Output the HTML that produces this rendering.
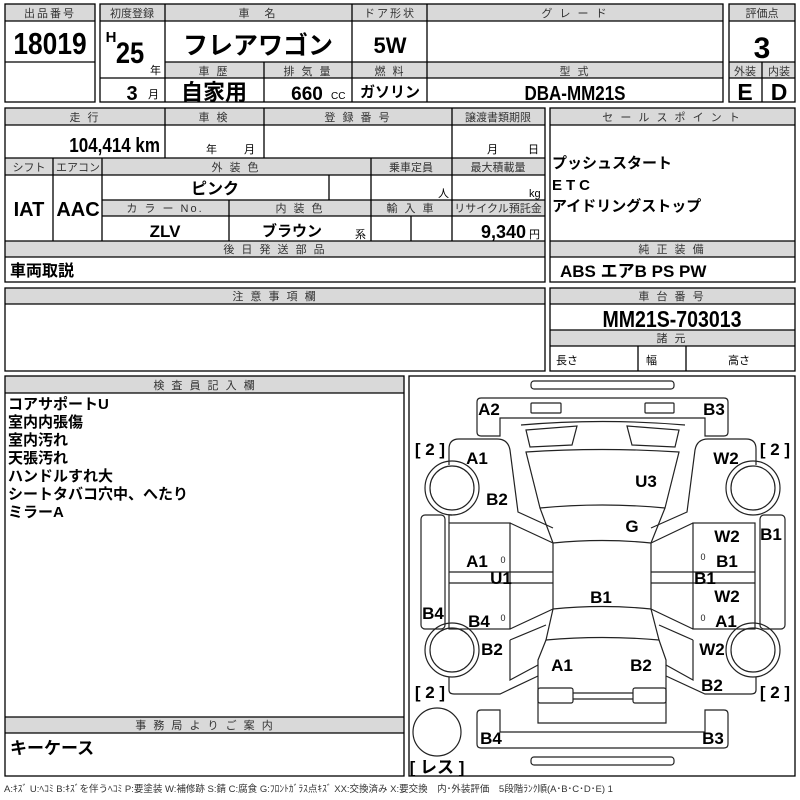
<!DOCTYPE html>
<html><head><meta charset="utf-8"><style>
html,body{margin:0;padding:0;background:#fff;}
svg{display:block;font-family:"Liberation Sans","Noto Sans CJK JP",sans-serif;}
.h{font-size:11px;fill:#333;text-anchor:middle;letter-spacing:2px}
.v{font-weight:bold;fill:#000;text-anchor:middle}
.d{font-weight:bold;font-size:17px;fill:#000;text-anchor:middle}
</style></head><body>
<svg width="800" height="800" viewBox="0 0 800 800" xmlns="http://www.w3.org/2000/svg">
<g fill="#d9d9d9" stroke="none">
<rect x="5" y="4" width="90" height="17"/>
<rect x="100" y="4" width="623" height="17"/>
<rect x="165" y="62" width="558" height="16"/>
<rect x="729" y="4" width="66" height="17"/>
<rect x="729" y="62" width="66" height="16"/>
<rect x="5" y="108" width="540" height="17"/>
<rect x="5" y="158" width="540" height="17"/>
<rect x="102" y="200" width="443" height="16"/>
<rect x="5" y="241" width="540" height="16"/>
<rect x="550" y="108" width="245" height="17"/>
<rect x="550" y="241" width="245" height="16"/>
<rect x="5" y="288" width="540" height="16"/>
<rect x="550" y="288" width="245" height="16"/>
<rect x="550" y="330" width="245" height="16"/>
<rect x="5" y="376" width="399" height="17"/>
<rect x="5" y="717" width="399" height="16"/>
</g>
<g fill="none" stroke="#000" stroke-width="1.3">
<rect x="5" y="4" width="90" height="98"/>
<line x1="5" y1="21" x2="95" y2="21"/><line x1="5" y1="62" x2="95" y2="62"/>
<rect x="100" y="4" width="623" height="98"/>
<line x1="100" y1="21" x2="723" y2="21"/>
<line x1="165" y1="62" x2="723" y2="62"/>
<line x1="100" y1="78" x2="723" y2="78"/>
<line x1="165" y1="4" x2="165" y2="102"/><line x1="352" y1="4" x2="352" y2="102"/>
<line x1="427" y1="4" x2="427" y2="102"/><line x1="264" y1="62" x2="264" y2="102"/>
<rect x="729" y="4" width="66" height="98"/>
<line x1="729" y1="21" x2="795" y2="21"/><line x1="729" y1="62" x2="795" y2="62"/><line x1="729" y1="78" x2="795" y2="78"/>
<line x1="762" y1="62" x2="762" y2="102"/>

<rect x="5" y="108" width="540" height="174"/>
<line x1="5" y1="125" x2="545" y2="125"/>
<line x1="5" y1="158" x2="545" y2="158"/>
<line x1="5" y1="175" x2="545" y2="175"/>
<line x1="102" y1="200" x2="545" y2="200"/>
<line x1="102" y1="216" x2="545" y2="216"/>
<line x1="5" y1="241" x2="545" y2="241"/>
<line x1="5" y1="257" x2="545" y2="257"/>
<line x1="165" y1="108" x2="165" y2="158"/><line x1="264" y1="108" x2="264" y2="158"/>
<line x1="452" y1="108" x2="452" y2="241"/>
<line x1="53" y1="158" x2="53" y2="241"/><line x1="102" y1="158" x2="102" y2="241"/>
<line x1="371" y1="158" x2="371" y2="241"/>
<line x1="329" y1="175" x2="329" y2="200"/>
<line x1="229" y1="200" x2="229" y2="241"/>
<line x1="411" y1="216" x2="411" y2="241"/>
<rect x="550" y="108" width="245" height="174"/>
<line x1="550" y1="125" x2="795" y2="125"/>
<line x1="550" y1="241" x2="795" y2="241"/><line x1="550" y1="257" x2="795" y2="257"/>

<rect x="5" y="288" width="540" height="83"/><line x1="5" y1="304" x2="545" y2="304"/>
<rect x="550" y="288" width="245" height="83"/>
<line x1="550" y1="304" x2="795" y2="304"/><line x1="550" y1="330" x2="795" y2="330"/><line x1="550" y1="346" x2="795" y2="346"/>
<line x1="638" y1="346" x2="638" y2="371"/><line x1="686" y1="346" x2="686" y2="371"/>

<rect x="5" y="376" width="399" height="400"/>
<line x1="5" y1="393" x2="404" y2="393"/>
<line x1="5" y1="717" x2="404" y2="717"/><line x1="5" y1="733" x2="404" y2="733"/>
<rect x="409" y="376" width="386" height="400"/>
</g>

<text class="h" x="50" y="17">出品番号</text>
<text class="h" x="132" y="17" style="letter-spacing:0">初度登録</text>
<text class="h" x="258" y="17">車　名</text>
<text class="h" x="390" y="17">ドア形状</text>
<text class="h" x="575" y="17">グ レ ー ド</text>
<text class="h" x="762" y="17" style="letter-spacing:0">評価点</text>
<text class="h" x="214" y="75">車 歴</text>
<text class="h" x="308" y="75">排 気 量</text>
<text class="h" x="390" y="75">燃 料</text>
<text class="h" x="575" y="75">型 式</text>
<text class="h" x="745" y="75" style="letter-spacing:0">外装</text>
<text class="h" x="779" y="75" style="letter-spacing:0">内装</text>

<text class="v" x="50" y="54" font-size="31" transform="translate(50 0) scale(0.85 1) translate(-50 0)">18019</text>
<text class="v" x="111" y="42" font-size="15">H</text>
<text class="v" x="130" y="63" font-size="30" transform="translate(130 0) scale(0.85 1) translate(-130 0)">25</text>
<text x="150" y="74" font-size="11">年</text>
<text class="v" x="132" y="100" font-size="20">3</text><text x="148" y="98" font-size="11">月</text>
<text class="v" x="258" y="54" font-size="25">フレアワゴン</text>
<text class="v" x="390" y="53" font-size="22">5W</text>
<text class="v" x="214" y="100" font-size="22">自家用</text>
<text class="v" x="307" y="100" font-size="19">660</text><text x="331" y="99" font-size="10">CC</text>
<text class="v" x="390" y="97" font-size="15">ガソリン</text>
<text class="v" x="575" y="100" font-size="20" transform="translate(575 0) scale(0.85 1) translate(-575 0)">DBA-MM21S</text>
<text class="v" x="762" y="58" font-size="30">3</text>
<text class="v" x="745" y="100" font-size="23">E</text>
<text class="v" x="779" y="100" font-size="23">D</text>

<text class="h" x="85" y="121">走 行</text>
<text class="h" x="214" y="121">車 検</text>
<text class="h" x="358" y="121">登 録 番 号</text>
<text class="h" x="498" y="121" style="letter-spacing:0">譲渡書類期限</text>
<text class="v" x="160" y="152" font-size="20" text-anchor="end" style="text-anchor:end" transform="translate(160 0) scale(0.85 1) translate(-160 0)">104,414 km</text>
<text x="206" y="153" font-size="11">年</text><text x="244" y="153" font-size="11">月</text>
<text x="487" y="153" font-size="11">月</text><text x="528" y="153" font-size="11">日</text>
<text class="h" x="29" y="171" style="letter-spacing:0">シフト</text>
<text class="h" x="78" y="171" style="letter-spacing:0">エアコン</text>
<text class="h" x="236" y="171">外 装 色</text>
<text class="h" x="411" y="171" style="letter-spacing:0">乗車定員</text>
<text class="h" x="498" y="171" style="letter-spacing:0">最大積載量</text>
<text class="v" x="215" y="194" font-size="16">ピンク</text>
<text x="438" y="197" font-size="11">人</text><text x="529" y="197" font-size="11">kg</text>
<text class="v" x="29" y="216" font-size="20">IAT</text>
<text class="v" x="78" y="216" font-size="20">AAC</text>
<text class="h" x="165" y="212">カ ラ ー No.</text>
<text class="h" x="300" y="212">内 装 色</text>
<text class="h" x="411" y="212">輸 入 車</text>
<text class="h" x="498" y="212" style="letter-spacing:0">リサイクル預託金</text>
<text class="v" x="165" y="237" font-size="17">ZLV</text>
<text class="v" x="292" y="236" font-size="15">ブラウン</text><text x="355" y="238" font-size="11">系</text>
<text class="v" x="526" y="238" font-size="18" style="text-anchor:end">9,340</text><text x="529" y="238" font-size="11">円</text>
<text class="h" x="275" y="253">後 日 発 送 部 品</text>
<text x="10" y="276" font-size="16" font-weight="bold">車両取説</text>
<text class="h" x="672" y="121">セ ー ル ス ポ イ ン ト</text>
<text x="552" y="168" font-size="15" font-weight="bold">プッシュスタート</text>
<text x="552" y="190" font-size="15" font-weight="bold" letter-spacing="4">ETC</text>
<text x="552" y="211" font-size="15" font-weight="bold">アイドリングストップ</text>
<text class="h" x="672" y="253">純 正 装 備</text>
<text x="560" y="277" font-size="17" font-weight="bold">ABS エアB PS PW</text>

<text class="h" x="275" y="300">注 意 事 項 欄</text>
<text class="h" x="672" y="300">車 台 番 号</text>
<text class="v" x="672" y="327" font-size="23" transform="translate(672 0) scale(0.85 1) translate(-672 0)">MM21S-703013</text>
<text class="h" x="672" y="342">諸 元</text>
<text x="556" y="364" font-size="11">長さ</text><text x="646" y="364" font-size="11">幅</text><text x="728" y="364" font-size="11">高さ</text>

<text class="h" x="205" y="389">検 査 員 記 入 欄</text>
<g font-size="15" font-weight="bold">
<text x="8" y="409">コアサポートU</text>
<text x="8" y="427">室内内張傷</text>
<text x="8" y="445">室内汚れ</text>
<text x="8" y="463">天張汚れ</text>
<text x="8" y="481">ハンドルすれ大</text>
<text x="8" y="499">シートタバコ穴中、へたり</text>
<text x="8" y="517">ミラーA</text>
</g>
<text class="h" x="205" y="729">事 務 局 よ り ご 案 内</text>
<text x="10" y="754" font-size="17" font-weight="bold">キーケース</text>
<text x="4" y="792" font-size="9.5" fill="#333">A:ｷｽﾞ U:ﾍｺﾐ B:ｷｽﾞを伴うﾍｺﾐ P:要塗装 W:補修跡 S:錆 C:腐食 G:ﾌﾛﾝﾄｶﾞﾗｽ点ｷｽﾞ XX:交換済み X:要交換　内･外装評価　5段階ﾗﾝｸ順(A･B･C･D･E) 1</text>

<!-- car diagram -->
<g fill="none" stroke="#222" stroke-width="1.2">
<rect x="531" y="381" width="143" height="8" rx="3"/>
<path d="M481,398 H724 Q728,398 728,402 V432 Q728,436 724,436 H705 V418 H500 V436 H481 Q477,436 477,432 V402 Q477,398 481,398 Z"/>
<rect x="531" y="403" width="30" height="10" rx="1"/>
<rect x="645" y="403" width="29" height="10" rx="1"/>
<path d="M521,425 Q602,418 685,425"/>
<path d="M526,430 L577,426 L572,445 L530,447 Z"/>
<path d="M627,426 L679,430 L675,447 L632,445 Z"/>
<path d="M526,452 Q602,447 679,452 L665,508 Q602,502 540,508 Z"/>
<path d="M540,508 L553,543 Q602,538 651,543 L665,508"/>
<path d="M553,543 V609 Q602,604 651,609 V543"/>
<path d="M553,609 L546,640 Q602,635 659,640 L651,609"/>
<path d="M546,640 L538,660 V723 H666 V660 L659,640"/>
<rect x="538" y="688" width="35" height="15" rx="2"/>
<rect x="633" y="688" width="33" height="15" rx="2"/>
<line x1="573" y1="693" x2="633" y2="693"/><line x1="573" y1="699" x2="633" y2="699"/>
<!-- left side -->
<path d="M449,465 V449 Q449,439 459,439 H497 Q508,439 510,450 L518,512 L553,528"/>
<circle cx="452" cy="488" r="27"/><circle cx="452" cy="488" r="22"/>
<path d="M452,515 H449 V523"/>
<rect x="449" y="523" width="61" height="106"/>
<line x1="449" y1="572" x2="553" y2="572"/><line x1="449" y1="583" x2="553" y2="583"/>
<line x1="510" y1="523" x2="553" y2="543"/><line x1="510" y1="629" x2="553" y2="609"/>
<rect x="421" y="515" width="24" height="114" rx="4"/>
<circle cx="452" cy="650" r="27"/><circle cx="452" cy="650" r="22"/>
<path d="M510,640 L546,625 M510,640 V680 L538,665 M449,677 V690 Q449,694 454,694 H500 L538,676"/>
<circle cx="437" cy="732" r="24"/>
<!-- right side -->
<path d="M756,465 V449 Q756,439 746,439 H708 Q697,439 695,450 L687,512 L651,528"/>
<circle cx="753" cy="488" r="27"/><circle cx="753" cy="488" r="22"/>
<rect x="693" y="523" width="62" height="106"/>
<line x1="651" y1="572" x2="755" y2="572"/><line x1="651" y1="583" x2="755" y2="583"/>
<line x1="693" y1="523" x2="651" y2="543"/><line x1="693" y1="629" x2="651" y2="609"/>
<rect x="760" y="515" width="25" height="114" rx="4"/>
<circle cx="753" cy="650" r="27"/><circle cx="753" cy="650" r="22"/>
<path d="M693,640 L659,625 M693,640 V680 L666,665 M756,677 V690 Q756,694 751,694 H705 L666,676"/>
<!-- rear bumper -->
<path d="M481,710 H500 V732 H705 V710 H724 Q728,710 728,714 V744 Q728,748 724,748 H481 Q477,748 477,744 V714 Q477,710 481,710 Z"/>
<rect x="531" y="757" width="143" height="8" rx="3"/>
</g>
<g font-size="9" fill="#222" text-anchor="middle">
<text x="503" y="563">0</text><text x="703" y="560">0</text><text x="503" y="621">0</text><text x="703" y="621">0</text>
</g>
<g class="d">
<text class="d" x="489" y="415">A2</text><text class="d" x="714" y="415">B3</text>
<text class="d" x="430" y="455" font-weight="normal">[ 2 ]</text><text class="d" x="775" y="455" font-weight="normal">[ 2 ]</text>
<text class="d" x="477" y="464">A1</text><text class="d" x="726" y="464">W2</text>
<text class="d" x="646" y="487">U3</text><text class="d" x="497" y="505">B2</text>
<text class="d" x="632" y="532">G</text><text class="d" x="771" y="540">B1</text>
<text class="d" x="727" y="542">W2</text><text class="d" x="477" y="567">A1</text>
<text class="d" x="727" y="567">B1</text><text class="d" x="501" y="584">U1</text>
<text class="d" x="705" y="584">B1</text><text class="d" x="601" y="603">B1</text>
<text class="d" x="727" y="602">W2</text><text class="d" x="433" y="619">B4</text>
<text class="d" x="479" y="627">B4</text><text class="d" x="726" y="627">A1</text>
<text class="d" x="492" y="655">B2</text><text class="d" x="712" y="655">W2</text>
<text class="d" x="562" y="671">A1</text><text class="d" x="641" y="671">B2</text>
<text class="d" x="712" y="691">B2</text>
<text class="d" x="430" y="698" font-weight="normal">[ 2 ]</text><text class="d" x="775" y="698" font-weight="normal">[ 2 ]</text>
<text class="d" x="491" y="744">B4</text><text class="d" x="713" y="744">B3</text>
<text class="d" x="437" y="773" font-size="14" font-weight="normal">[ レス ]</text>
</g>
</svg>
</body></html>
